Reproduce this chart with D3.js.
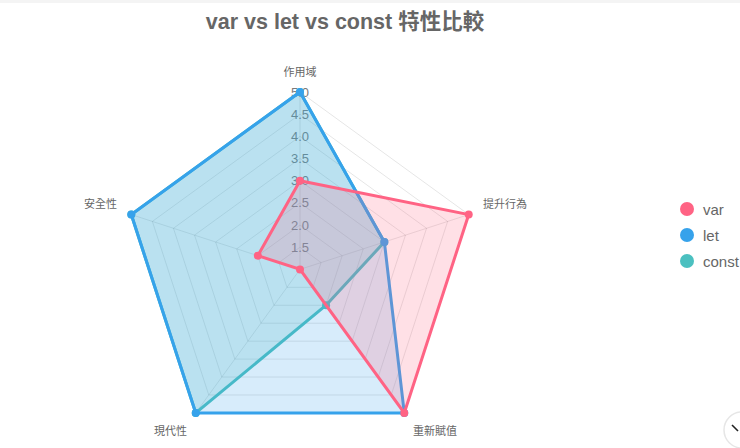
<!DOCTYPE html>
<html>
<head>
<meta charset="utf-8">
<script src="https://cdn.jsdelivr.net/npm/d3@7"></script>
<style>
  html, body { margin: 0; padding: 0; background: #fff; overflow: hidden; }
  svg { display: block; }
  text { font-family: "Liberation Sans", Arial, "Noto Sans CJK TC", sans-serif; }
</style>
</head>
<body>
<svg id="chart" width="740" height="448"></svg>
<script>
// ---- data ----
const title = "var vs let vs const 特性比較";
const categories = ["作用域", "提升行為", "重新賦值", "現代性", "安全性"];
const seriesNames = ["var", "let", "const"];
const varValues = [3, 5, 5, 1, 2];
const letValues = [5, 3, 5, 5, 5];
const constValues = [5, 3, 2, 5, 5];
const tickLabels = ["1.5", "2.0", "2.5", "3.0", "3.5", "4.0", "4.5", "5.0"];
const scaleMin = 1, scaleMax = 5;

const colors = ["#ff6384", "#36a2eb", "#4bc0c0"];
const fills = ["rgba(255,99,132,0.2)", "rgba(54,162,235,0.2)", "rgba(75,192,192,0.2)"];

const series = [varValues, letValues, constValues].map((vals, i) => ({
  name: seriesNames[i], values: vals, color: colors[i], fill: fills[i]
}));

// ---- layout ----
const svg = d3.select("#chart");
const W = 740, H = 448;
const cx = 300, cy = 269.4, R = 177.4;
const n = categories.length;

svg.append("rect").attr("x", 0).attr("y", 0).attr("width", W).attr("height", 3).attr("fill", "#f4f4f4");

const r = d3.scaleLinear().domain([scaleMin, scaleMax]).range([0, R]);
const angle = d3.scaleLinear().domain([0, n]).range([0, 2 * Math.PI]);

const g = svg.append("g").attr("transform", `translate(${cx},${cy})`);

const radial = d3.lineRadial()
  .angle((d, i) => angle(i))
  .radius(d => r(d))
  .curve(d3.curveLinearClosed);

// grid polygons
const tickVals = tickLabels.map(Number);
g.selectAll("path.grid").data(tickVals).join("path")
  .attr("class", "grid")
  .attr("d", v => radial(categories.map(() => v)))
  .attr("fill", "none")
  .attr("stroke", "rgba(0,0,0,0.1)")
  .attr("stroke-width", 1);

// angle lines
g.selectAll("line.axis").data(categories).join("line")
  .attr("x1", 0).attr("y1", 0)
  .attr("x2", (d, i) => r(scaleMax) * Math.sin(angle(i)))
  .attr("y2", (d, i) => -r(scaleMax) * Math.cos(angle(i)))
  .attr("stroke", "rgba(0,0,0,0.1)")
  .attr("stroke-width", 1);

// point labels
g.selectAll("text.plabel").data(categories).join("text")
  .attr("class", "plabel")
  .attr("x", (d, i) => (R + 15) * Math.sin(angle(i)))
  .attr("y", (d, i) => {
    const y = -(R + 15) * Math.cos(angle(i));
    return y < 0 ? y - 5.5 : y + 6;
  })
  .attr("text-anchor", (d, i) => {
    const s = Math.sin(angle(i));
    return Math.abs(s) < 0.05 ? "middle" : (s > 0 ? "start" : "end");
  })
  .attr("dominant-baseline", "central")
  .attr("font-size", 11)
  .attr("fill", "#666")
  .text(d => d);

// tick labels
g.selectAll("text.tick").data(tickLabels).join("text")
  .attr("class", "tick")
  .attr("x", 0)
  .attr("y", d => -r(+d))
  .attr("text-anchor", "middle")
  .attr("dominant-baseline", "central")
  .attr("font-size", 13)
  .attr("fill", "#7a7a7a")
  .text(d => d);

// datasets (drawn in reverse so first is on top)
const dsOrder = series.slice().reverse();
dsOrder.forEach(s => {
  const dg = g.append("g");
  dg.append("path")
    .attr("d", radial(s.values))
    .attr("fill", s.fill)
    .attr("stroke", s.color)
    .attr("stroke-width", 3)
    .attr("stroke-linejoin", "miter");
  dg.selectAll("circle").data(s.values).join("circle")
    .attr("cx", (d, i) => r(d) * Math.sin(angle(i)))
    .attr("cy", (d, i) => -r(d) * Math.cos(angle(i)))
    .attr("r", 4)
    .attr("fill", s.color);
});

// title
svg.append("text")
  .attr("x", 345).attr("y", 29)
  .attr("text-anchor", "middle")
  .attr("font-size", 21.5)
  .attr("font-weight", "bold")
  .attr("fill", "#666")
  .text(title);

// legend
const lg = svg.append("g").attr("transform", "translate(687,209)");
const items = lg.selectAll("g").data(series).join("g")
  .attr("transform", (d, i) => `translate(0,${i * 26})`);
items.append("circle").attr("r", 7).attr("fill", d => d.color);
items.append("text")
  .attr("x", 16).attr("y", 0)
  .attr("dominant-baseline", "central")
  .attr("font-size", 15)
  .attr("fill", "#666")
  .text(d => d.name);

// scroll button at bottom-right corner
const btn = svg.append("g").attr("transform", "translate(742,430)");
btn.append("circle").attr("r", 18).attr("fill", "#fff").attr("stroke", "#e6e6e6").attr("stroke-width", 1.5);
btn.append("path").attr("d", "M-10,-5 L-4,1").attr("stroke", "#222").attr("stroke-width", 1.6).attr("fill", "none");
</script>
</body>
</html>
